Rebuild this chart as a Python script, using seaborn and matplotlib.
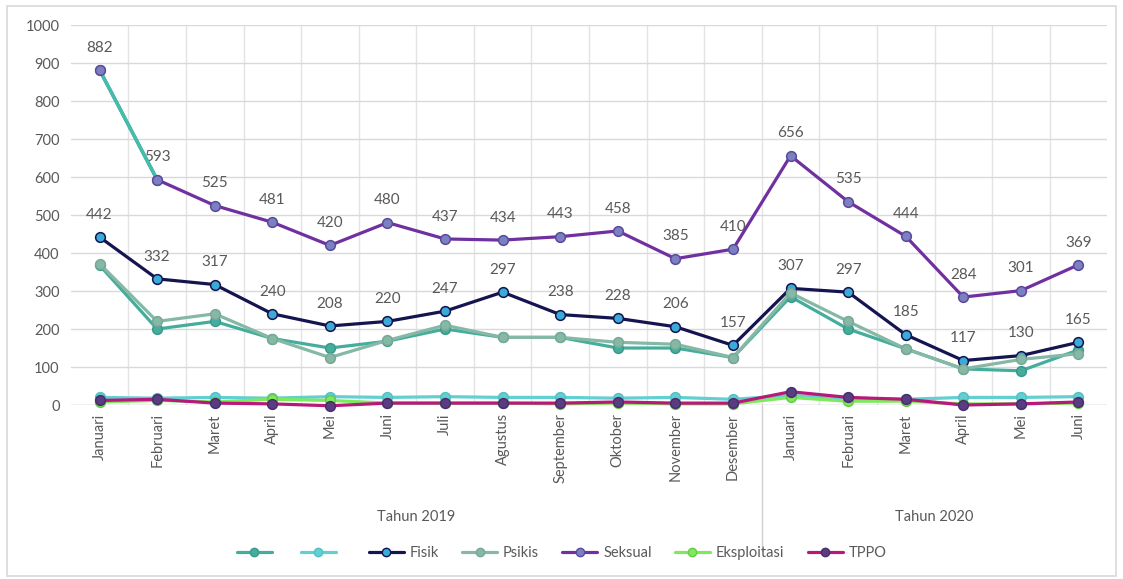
import numpy as np
import pandas as pd
import seaborn as sns
import matplotlib.pyplot as plt
from matplotlib.lines import Line2D
from matplotlib.patches import Rectangle

sns.set_theme(style="white")
plt.rcParams['font.family'] = ['Lato', 'DejaVu Sans']

# month labels, two years side by side
months = ['Januari', 'Februari', 'Maret', 'April', 'Mei', 'Juni', 'Juli', 'Agustus',
          'September', 'Oktober', 'November', 'Desember',
          'Januari', 'Februari', 'Maret', 'April', 'Mei', 'Juni']
years = ['Tahun 2019', 'Tahun 2020']

seri_a = [368, 200, 220, 175, 150, 168, 200, 178, 178, 150, 150, 125, 285, 200, 148, 95, 90, 145]
seri_b = [20, 18, 20, 18, 22, 20, 22, 20, 20, 18, 20, 15, 25, 18, 15, 20, 20, 22]
fisik = [442, 332, 317, 240, 208, 220, 247, 297, 238, 228, 206, 157, 307, 297, 185, 117, 130, 165]
psikis = [372, 220, 240, 175, 125, 170, 210, 178, 178, 165, 160, 125, 295, 220, 148, 95, 120, 135]
seksual = [882, 593, 525, 481, 420, 480, 437, 434, 443, 458, 385, 410, 656, 535, 444, 284, 301, 369]
eksploitasi = [8, 12, 8, 15, 12, 5, 5, 5, 3, 5, 3, 3, 20, 10, 10, 3, 3, 5]
tppo = [12, 15, 5, 3, -2, 5, 5, 5, 5, 8, 5, 5, 35, 20, 15, 0, 3, 8]

x = np.arange(len(months))

# (label, values, line colour, marker face, marker edge)
series = [
    ('', seri_a, '#45ad9c', '#45ad9c', '#3a9a8a'),
    (' ', seri_b, '#62cfd2', '#62cfd2', '#55c0c4'),
    ('Fisik', fisik, '#141450', '#3aaad6', '#141450'),
    ('Psikis', psikis, '#86b8a6', '#86b8a6', '#78a898'),
    ('Seksual', seksual, '#7030a0', '#7a80c2', '#5a4a9a'),
    ('Eksploitasi', eksploitasi, '#7ee85e', '#7ee85e', '#66cc48'),
    ('TPPO', tppo, '#b8187a', '#5a3d80', '#4a2d70'),
]

fig = plt.figure(figsize=(11.23, 5.79), dpi=100)
ax = fig.add_axes([0.063, 0.3005, 0.923, 0.6563])

handles = []
for name, vals, lc, mf, me in series:
    df = pd.DataFrame({'x': x, 'y': vals})
    sns.lineplot(data=df, x='x', y='y', ax=ax, color=lc, linewidth=2.3,
                 marker='o', markersize=7, markerfacecolor=mf, markeredgecolor=me,
                 markeredgewidth=1.1, clip_on=False, zorder=3)
    handles.append(Line2D([], [], color=lc, linewidth=2.3, marker='o', markersize=6,
                          markerfacecolor=mf, markeredgecolor=me))

# first Seksual segment shows in teal in the original
seg = pd.DataFrame({'x': x[:2], 'y': seksual[:2]})
sns.lineplot(data=seg, x='x', y='y', ax=ax, color='#3fc0a8', linewidth=2.5, zorder=4)
ax.plot(x[:2], seksual[:2], 'o', markersize=7, markerfacecolor='#7a80c2',
        markeredgecolor='#5a4a9a', zorder=5)

label_col = '#595959'
for xi, v in zip(x, seksual):
    ax.annotate(str(v), (xi, v), xytext=(0, 11), textcoords='offset points',
                ha='center', va='bottom', fontsize=11, color=label_col)
for xi, v in zip(x, fisik):
    ax.annotate(str(v), (xi, v), xytext=(0, 11), textcoords='offset points',
                ha='center', va='bottom', fontsize=11, color=label_col)

ax.set_xlim(-0.5, len(months) - 0.5)
ax.set_ylim(0, 1000)
ax.set_yticks(range(0, 1001, 100))
ax.set_yticklabels([str(t) for t in range(0, 1001, 100)], color=label_col, fontsize=10.5)
ax.set_xticks(x)
ax.set_xticklabels(months, rotation=90, color=label_col, fontsize=10.5)
ax.tick_params(axis='x', length=0, pad=6)
ax.tick_params(axis='y', length=0, pad=8)
ax.set_xlabel('')
ax.set_ylabel('')

ax.grid(axis='y', color='#d9d9d9', linewidth=1)
for b in np.arange(0.5, len(months) - 1, 1.0):
    if b != 11.5:
        ax.axvline(b, color='#e3e3e3', linewidth=1, zorder=0)
for s in ax.spines.values():
    s.set_visible(False)
ax.axhline(0, color='#d0d0d0', linewidth=1, zorder=1)

# year group labels and divider below the axis
trans = ax.get_xaxis_transform()
ax.text(5.5, -0.295, years[0], transform=trans, ha='center', va='center',
        fontsize=10.5, color=label_col)
ax.text(14.5, -0.295, years[1], transform=trans, ha='center', va='center',
        fontsize=10.5, color=label_col)
ax.plot([11.5, 11.5], [0, -0.385], transform=trans, color='#d0d0d0', linewidth=1,
        clip_on=False)
ax.axvline(11.5, color='#e3e3e3', linewidth=1, zorder=0)

fig.legend(handles, [s[0] for s in series], loc='center', bbox_to_anchor=(0.5, 0.045),
           ncol=7, frameon=False, fontsize=10.5, labelcolor=label_col,
           handlelength=2.4, columnspacing=1.6, handletextpad=0.4)

fig.patches.append(Rectangle((0.006, 0.006), 0.988, 0.984, transform=fig.transFigure,
                             fill=False, edgecolor='#d9d9d9', linewidth=1.2))

fig.savefig('out.png', dpi=100)
